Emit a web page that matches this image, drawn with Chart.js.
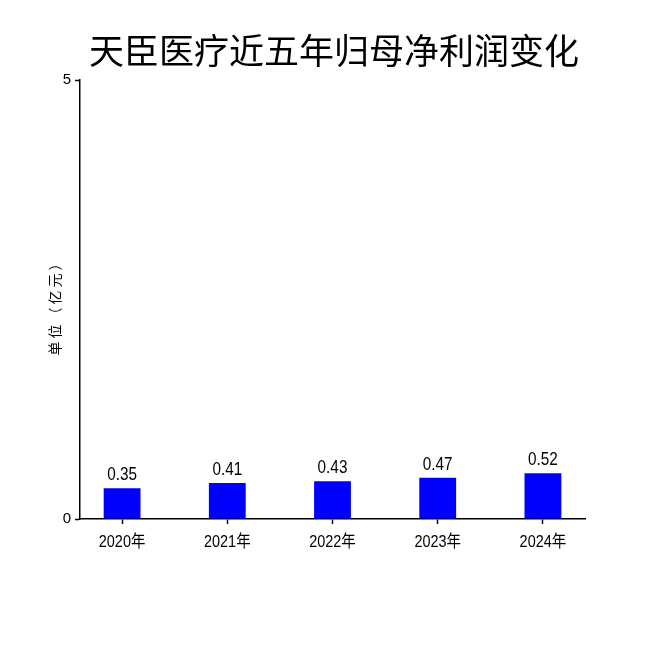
<!DOCTYPE html>
<html>
<head>
<meta charset="utf-8">
<script src="https://cdn.jsdelivr.net/npm/chart.js@4.4.1/dist/chart.umd.min.js"></script>
<style>
  html, body { margin: 0; padding: 0; background: #fff; }
  #wrap { width: 650px; height: 650px; }
</style>
</head>
<body>
<div id="wrap"><canvas id="profitChart" width="650" height="650"></canvas></div>
<script>
const chartTitle = '天臣医疗近五年归母净利润变化';
const yTitle = '单位（亿元）';
const years = ['2020年', '2021年', '2022年', '2023年', '2024年'];
const profits = [0.35, 0.41, 0.43, 0.47, 0.52];
const yTicks = [0, 5];

const numFont = '"Liberation Sans", "Noto Sans CJK SC", sans-serif';

// draw narrow text (the reference uses a condensed face)
function narrowText(ctx, text, x, y, squeeze) {
  ctx.save();
  ctx.translate(x, y);
  ctx.scale(squeeze, 1);
  ctx.fillText(text, 0, 0);
  ctx.restore();
}

// title, y title, x labels and value labels drawn by hand
const extraText = {
  id: 'extraText',
  afterDraw(chart) {
    const ctx = chart.ctx;
    const area = chart.chartArea;
    ctx.save();
    ctx.fillStyle = '#000';
    ctx.textAlign = 'center';
    ctx.textBaseline = 'middle';
    ctx.font = '35px "Noto Sans CJK SC", sans-serif';
    ctx.fillText(chartTitle, 334, 51);

    ctx.save();
    ctx.translate(55, (area.top + area.bottom) / 2 + 5);
    ctx.rotate(-Math.PI / 2);
    ctx.font = '14px "Noto Sans CJK SC", sans-serif';
    ctx.letterSpacing = '3px';
    ctx.fillText(yTitle, 0, 0);
    ctx.restore();

    const xs = chart.scales.x;
    ctx.font = '17px ' + numFont;
    years.forEach((label, i) => {
      narrowText(ctx, label, xs.getPixelForValue(i), area.bottom + 23, 0.85);
    });

    ctx.textBaseline = 'alphabetic';
    ctx.font = '18px ' + numFont;
    const meta = chart.getDatasetMeta(0);
    meta.data.forEach((bar, i) => {
      narrowText(ctx, profits[i].toFixed(2), bar.x, bar.y - 8, 0.85);
    });
    ctx.restore();
  }
};

new Chart(document.getElementById('profitChart'), {
  type: 'bar',
  data: {
    datasets: [{
      data: profits.map((v, i) => ({ x: i, y: v })),
      backgroundColor: '#0000ff',
      borderWidth: 0,
      categoryPercentage: 1,
      barPercentage: 0.35
    }]
  },
  options: {
    responsive: false,
    animation: false,
    layout: { padding: { left: 40, top: 80, right: 65, bottom: 91 } },
    plugins: {
      legend: { display: false },
      tooltip: { enabled: false }
    },
    scales: {
      x: {
        type: 'linear',
        min: -0.4,
        max: 4.4,
        offset: false,
        afterBuildTicks: s => { s.ticks = years.map((y, i) => ({ value: i })); },
        afterFit: s => { s.height = 40; },
        border: { color: '#000', width: 1.5 },
        grid: { offset: false, drawOnChartArea: false, tickColor: '#000', tickLength: 5, tickWidth: 1.5 },
        ticks: { display: false }
      },
      y: {
        min: 0,
        max: 5,
        afterBuildTicks: s => { s.ticks = yTicks.map(v => ({ value: v })); },
        afterFit: s => { s.width = 40; },
        border: { color: '#000', width: 1.5 },
        grid: { drawOnChartArea: false, tickColor: '#000', tickLength: 5, tickWidth: 1.5 },
        ticks: {
          color: '#000',
          font: { family: numFont, size: 15 },
          padding: 4
        }
      }
    }
  },
  plugins: [extraText]
});
</script>
</body>
</html>
